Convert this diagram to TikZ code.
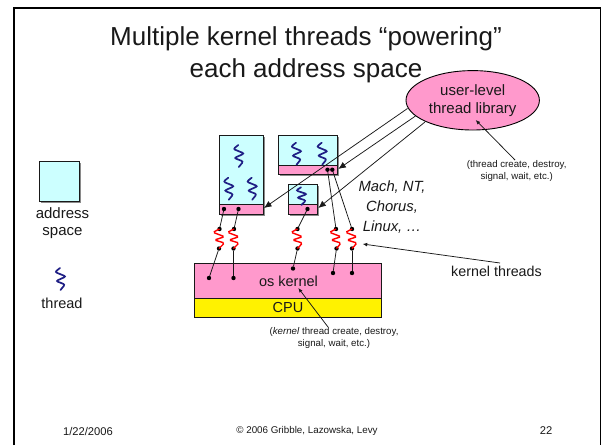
\documentclass[tikz,border=0pt]{standalone}
\usepackage{fontspec}
\setmainfont{Liberation Sans}
\usetikzlibrary{arrows.meta,shapes.geometric}
\definecolor{aspace}{HTML}{CCFFFF}
\definecolor{kpink}{HTML}{FF99CC}
\definecolor{threadblue}{HTML}{1F1F85}
\definecolor{shadowgray}{HTML}{8A8A8A}
\newcommand{\fs}[2]{\fontsize{#1}{#2}\selectfont}
\tikzset{
  every node/.style={inner sep=0,outer sep=0,align=center,text=black!90},
  asbox/.style={draw=black!90,line width=.9pt,fill=aspace},
  pinkbox/.style={draw=black!90,line width=.9pt,fill=kpink},
  shadowbox/.style={fill=shadowgray,draw=none},
  dotnode/.style={circle,fill=black,minimum size=4.4pt},
  link/.style={draw=black!90,line width=.75pt},
  bigarrow/.style={link,-{Latex[length=7.5pt,width=6.5pt]}},
  smallarrow/.style={link,-{Latex[length=4.5pt,width=3.8pt]}},
  uthread/.pic={\draw[threadblue,line width=1.7pt,line cap=round,rounded corners=2pt]
     (0,0) -- (-5,4) -- (6,8.5) -- (-4,13) -- (5,16.5) -- (0.5,22);},
  spring/.style={red,line width=1.4pt,rounded corners=1.6pt},
}
\newcommand{\kspring}[2]{\draw[spring] (#1) -- ++(-6.5,3.3) -- ++(11.5,4.4) -- ++(-10,3.3) -- ++(10,3) -- (#2);}
\begin{document}
\begin{tikzpicture}[x=1pt,y=-1pt]
\useasboundingbox (0,0) rectangle (602,445);
% slide frame
\fill[white] (0,0) rectangle (602,445);
\draw[black,line width=2.6pt] (14,445) -- (14,8) -- (600.5,8);
\draw[black,line width=1pt] (600.5,8) -- (600.5,445);
% title
\node[font=\fs{26}{32}] (title) at (306,55) {Multiple kernel threads “powering”\\each address space};
% legend
\fill[shadowbox] (41,163.2) rectangle (80.5,202.5);
\node[asbox,minimum width=39.5pt,minimum height=39.5pt] (legendbox) at (59.3,181.4) {};
\node[font=\fs{15}{17}] (legendtext) at (62.5,223.5) {address\\space};
\pic at (60,268) {uthread};
\node[font=\fs{14.5}{17}] (threadtext) at (62,303) {thread};
% address space 1
\fill[shadowbox] (220.5,136.5) rectangle (265,215.5);
\draw[asbox] (219,135) rectangle (263.5,204.5);
\node[pinkbox,minimum width=44.5pt,minimum height=9.7pt,anchor=north west] (band1) at (219,204.5) {};
% address space 2
\fill[shadowbox] (279.8,136.5) rectangle (339,176);
\draw[asbox] (278.3,135) rectangle (337.5,165);
\node[pinkbox,minimum width=59.2pt,minimum height=9.6pt,anchor=north west] (band2) at (278.3,165) {};
% address space 3
\fill[shadowbox] (289.5,186) rectangle (319,215.5);
\draw[asbox] (288,184.5) rectangle (317.5,204.5);
\node[pinkbox,minimum width=29.5pt,minimum height=9.7pt,anchor=north west] (band3) at (288,204.5) {};
% user threads
\pic at (238.3,145) {uthread};
\pic at (228.3,177.7) {uthread};
\pic at (251.7,177.7) {uthread};
\pic at (296,142.7) {uthread};
\pic at (321.7,142.7) {uthread};
\pic[yscale=.8] at (301,187.3) {uthread};
% kernel and CPU
\node[pinkbox,minimum width=187.4pt,minimum height=34.7pt,anchor=north west] (kernel) at (194.3,263.3) {};
\node[draw=black!90,line width=.9pt,fill=yellow,minimum width=187.4pt,minimum height=19pt,anchor=north west] (cpu) at (194.3,298) {};
\node[font=\fs{14.5}{17}] (kerneltext) at (288.5,281) {os kernel};
\node[font=\fs{14.5}{17}] (cputext) at (288,308) {CPU};
% dots
\foreach \n/\x/\y in {a1/224/209,a2/238.5/209,b1/327.5/169.7,b2/332.3/169.7,c1/307.5/209,
  t1/219.5/229,t2/234/229,t3/297.5/229,t4/336/229,t5/352/229,
  u1/219/248.5,u2/233.5/248.5,u3/297.5/248.5,u4/336.5/248.5,u5/352/248.5,
  k1/209/278,k2/233.5/278,k3/293/268.5,k4/333/273,k5/352/273}
  {\node[dotnode] (\n) at (\x,\y) {};}
% connectors and kernel-thread springs
\draw[link] (a1) -- (t1); \draw[link] (a2) -- (t2); \draw[link] (c1) -- (t3);
\draw[link] (b1) -- (t4); \draw[link] (b2) -- (t5);
\kspring{t1.center}{u1.center}
\kspring{t2.center}{u2.center}
\kspring{t3.center}{u3.center}
\kspring{t4.center}{u4.center}
\kspring{t5.center}{u5.center}
\draw[link] (u1) -- (k1); \draw[link] (u2) -- (k2); \draw[link] (u3) -- (k3);
\draw[link] (u4) -- (k4); \draw[link] (u5) -- (k5);
% user-level library
\node[ellipse,draw=black,line width=.9pt,fill=kpink,minimum width=133.4pt,minimum height=59.4pt,font=\fs{15}{18}] (lib) at (472.7,100.3) {user-level\\thread library};
\coordinate (tip1) at (264,208);
\coordinate (tip2) at (338.3,169);
\coordinate (tip3) at (318.3,208);
\draw[bigarrow] (407.5,108.5) -- (tip1);
\draw[bigarrow] (415.5,116) -- (tip2);
\draw[bigarrow] (425,122) -- (tip3);
% annotations
\node[font=\fs{9.7}{12}] (libnote) at (516.7,171) {(thread create, destroy,\\signal, wait, etc.)};
\coordinate (libtip) at (475.7,120);
\draw[smallarrow] (515,160) -- (libtip);
\node[font=\fs{14.8}{20}\itshape] (oses) at (392,207) {Mach, NT,\\Chorus,\\Linux, …};
\node[font=\fs{14.3}{17}] (ktlabel) at (496.5,271) {kernel threads};
\coordinate (kttip) at (362.7,244);
\draw[smallarrow] (500,263) -- (kttip);
\node[font=\fs{9.7}{12}] (knote) at (334,338) {(\textit{kernel} thread create, destroy,\\signal, wait, etc.)};
\coordinate (ktip) at (298.3,288);
\draw[smallarrow] (328,327) -- (ktip);
% footer
\node[font=\fs{11.2}{13}] (fdate) at (88,431) {1/22/2006};
\node[font=\fs{9.8}{12}] (fcopy) at (307,431) {© 2006 Gribble, Lazowska, Levy};
\node[font=\fs{11.2}{13}] (fnum) at (546,431) {22};
\end{tikzpicture}
\end{document}
